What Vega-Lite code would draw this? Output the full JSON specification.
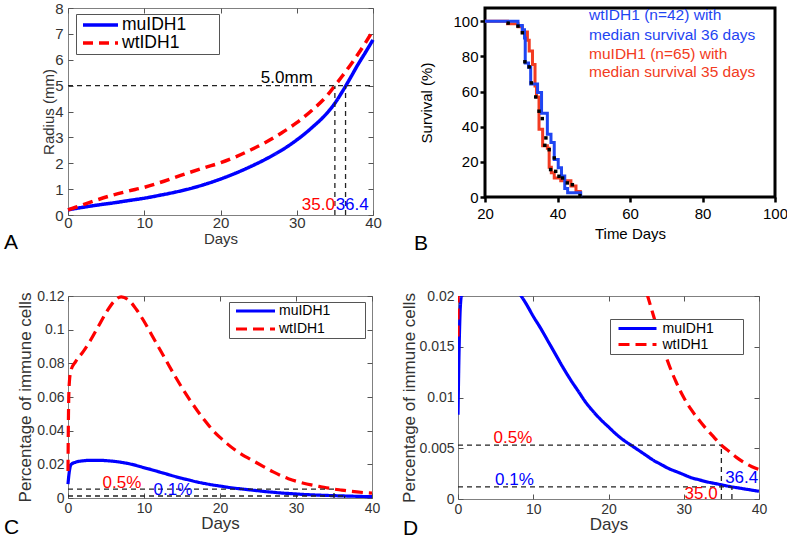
{
 "$schema": "https://vega.github.io/schema/vega-lite/v6.json",
 "padding": {"left": 3, "top": 0, "right": 0, "bottom": 0},
 "background": "white",
 "config": {
  "font": "Liberation Sans",
  "axis": {"labelFont": "Liberation Sans", "titleFont": "Liberation Sans", "titleFontWeight": "normal", "grid": false, "labelFlush": false, "labelOverlap": false, "domain": false},
  "legend": {"labelFont": "Liberation Sans"},
  "title": {"font": "Liberation Sans", "fontWeight": "normal", "fontSize": 21, "color": "black", "orient": "bottom", "anchor": "start", "frame": "group", "offset": 0}
 },
 "datasets": {
  "radius": [
   {"day":0,"r":0.2,"series":"muIDH1"},{"day":2,"r":0.3,"series":"muIDH1"},{"day":4,"r":0.39,"series":"muIDH1"},{"day":6,"r":0.47,"series":"muIDH1"},{"day":8,"r":0.56,"series":"muIDH1"},{"day":10,"r":0.65,"series":"muIDH1"},{"day":12,"r":0.76,"series":"muIDH1"},{"day":14,"r":0.88,"series":"muIDH1"},{"day":16,"r":1.02,"series":"muIDH1"},{"day":18,"r":1.19,"series":"muIDH1"},{"day":20,"r":1.39,"series":"muIDH1"},{"day":22,"r":1.62,"series":"muIDH1"},{"day":24,"r":1.88,"series":"muIDH1"},{"day":26,"r":2.17,"series":"muIDH1"},{"day":28,"r":2.5,"series":"muIDH1"},{"day":30,"r":2.9,"series":"muIDH1"},{"day":32,"r":3.38,"series":"muIDH1"},{"day":34,"r":3.95,"series":"muIDH1"},{"day":35,"r":4.32,"series":"muIDH1"},{"day":36,"r":4.78,"series":"muIDH1"},{"day":37,"r":5.28,"series":"muIDH1"},{"day":38,"r":5.8,"series":"muIDH1"},{"day":39,"r":6.28,"series":"muIDH1"},{"day":40,"r":6.77,"series":"muIDH1"},
   {"day":0,"r":0.2,"series":"wtIDH1"},{"day":2,"r":0.4,"series":"wtIDH1"},{"day":4,"r":0.6,"series":"wtIDH1"},{"day":6,"r":0.78,"series":"wtIDH1"},{"day":8,"r":0.93,"series":"wtIDH1"},{"day":10,"r":1.07,"series":"wtIDH1"},{"day":12,"r":1.25,"series":"wtIDH1"},{"day":14,"r":1.45,"series":"wtIDH1"},{"day":16,"r":1.65,"series":"wtIDH1"},{"day":18,"r":1.84,"series":"wtIDH1"},{"day":20,"r":2.02,"series":"wtIDH1"},{"day":22,"r":2.25,"series":"wtIDH1"},{"day":24,"r":2.52,"series":"wtIDH1"},{"day":26,"r":2.82,"series":"wtIDH1"},{"day":28,"r":3.17,"series":"wtIDH1"},{"day":30,"r":3.57,"series":"wtIDH1"},{"day":32,"r":4.05,"series":"wtIDH1"},{"day":34,"r":4.62,"series":"wtIDH1"},{"day":35,"r":5.0,"series":"wtIDH1"},{"day":36,"r":5.38,"series":"wtIDH1"},{"day":37,"r":5.78,"series":"wtIDH1"},{"day":38,"r":6.2,"series":"wtIDH1"},{"day":39,"r":6.65,"series":"wtIDH1"},{"day":40,"r":7.13,"series":"wtIDH1"}
  ],
  "refA": [
   {"x":0,"x2":40,"y":5,"y2":5},{"x":35,"x2":35,"y":0,"y2":5},{"x":36.4,"x2":36.4,"y":0,"y2":5}
  ],
  "surv": [
   {"day":20,"pct":100,"series":"muIDH1"},{"day":26.2,"pct":98.5,"series":"muIDH1"},{"day":29.1,"pct":96.9,"series":"muIDH1"},{"day":30.3,"pct":93.8,"series":"muIDH1"},{"day":31.7,"pct":89.2,"series":"muIDH1"},{"day":32.2,"pct":83.1,"series":"muIDH1"},{"day":33.1,"pct":75.4,"series":"muIDH1"},{"day":33.8,"pct":63.1,"series":"muIDH1"},{"day":34.2,"pct":56.9,"series":"muIDH1"},{"day":34.9,"pct":38.5,"series":"muIDH1"},{"day":35.9,"pct":29.2,"series":"muIDH1"},{"day":37.2,"pct":27.7,"series":"muIDH1"},{"day":37.7,"pct":16.9,"series":"muIDH1"},{"day":38.3,"pct":13.8,"series":"muIDH1"},{"day":39.1,"pct":10.8,"series":"muIDH1"},{"day":40.9,"pct":9.2,"series":"muIDH1"},{"day":43.7,"pct":6.2,"series":"muIDH1"},{"day":45.1,"pct":3.1,"series":"muIDH1"},{"day":46.3,"pct":0,"series":"muIDH1"},
   {"day":20,"pct":100,"series":"wtIDH1"},{"day":29.1,"pct":97.6,"series":"wtIDH1"},{"day":30.3,"pct":95.2,"series":"wtIDH1"},{"day":30.9,"pct":90.5,"series":"wtIDH1"},{"day":31.1,"pct":76.2,"series":"wtIDH1"},{"day":32.0,"pct":73.8,"series":"wtIDH1"},{"day":32.6,"pct":64.3,"series":"wtIDH1"},{"day":34.5,"pct":59.5,"series":"wtIDH1"},{"day":35.6,"pct":47.6,"series":"wtIDH1"},{"day":37.2,"pct":35.7,"series":"wtIDH1"},{"day":38.2,"pct":31.0,"series":"wtIDH1"},{"day":39.1,"pct":21.4,"series":"wtIDH1"},{"day":40.2,"pct":16.7,"series":"wtIDH1"},{"day":41.1,"pct":11.9,"series":"wtIDH1"},{"day":42.0,"pct":4.8,"series":"wtIDH1"},{"day":42.8,"pct":2.4,"series":"wtIDH1"},{"day":46.4,"pct":0,"series":"wtIDH1"}
  ],
  "censor": [
   {"day":26.4,"pct":98.9},{"day":29.1,"pct":97.2},{"day":30.3,"pct":93.4},{"day":31.0,"pct":76.9},{"day":32.2,"pct":74.0},{"day":32.8,"pct":64.9},{"day":34.0,"pct":56.9},{"day":34.9,"pct":48.8},{"day":35.8,"pct":44.6},{"day":36.8,"pct":33.6},{"day":36.5,"pct":29.4},{"day":37.7,"pct":26.9},{"day":38.1,"pct":15.6},{"day":39.1,"pct":22.2},{"day":39.5,"pct":14.6},{"day":40.4,"pct":11.8},{"day":41.4,"pct":10.8},{"day":42.7,"pct":8.0},{"day":44.1,"pct":7.0},{"day":46.2,"pct":0.8}
  ],
  "btext": [
   {"day":48.7,"pct":103.4,"series":"wtIDH1","label":"wtIDH1 (n=42) with"},
   {"day":48.7,"pct":92.4,"series":"wtIDH1","label":"median survival 36 days"},
   {"day":48.7,"pct":81.6,"series":"muIDH1","label":"muIDH1 (n=65) with"},
   {"day":48.7,"pct":71.0,"series":"muIDH1","label":"median survival 35 days"}
  ],
  "immune": [
   {"day":0,"v":0.0083,"series":"muIDH1"},{"day":0.1,"v":0.013,"series":"muIDH1"},{"day":0.2,"v":0.0165,"series":"muIDH1"},{"day":0.3,"v":0.0188,"series":"muIDH1"},{"day":0.5,"v":0.0203,"series":"muIDH1"},{"day":1,"v":0.0213,"series":"muIDH1"},{"day":2,"v":0.0221,"series":"muIDH1"},{"day":3,"v":0.0224,"series":"muIDH1"},{"day":4,"v":0.0224,"series":"muIDH1"},{"day":5,"v":0.0222,"series":"muIDH1"},{"day":6,"v":0.0218,"series":"muIDH1"},{"day":7,"v":0.0212,"series":"muIDH1"},{"day":8,"v":0.0204,"series":"muIDH1"},{"day":9,"v":0.0193,"series":"muIDH1"},{"day":10,"v":0.018,"series":"muIDH1"},{"day":11,"v":0.0168,"series":"muIDH1"},{"day":12,"v":0.0155,"series":"muIDH1"},{"day":13,"v":0.0142,"series":"muIDH1"},{"day":14,"v":0.0129,"series":"muIDH1"},{"day":15,"v":0.0117,"series":"muIDH1"},{"day":16,"v":0.0106,"series":"muIDH1"},{"day":17,"v":0.0095,"series":"muIDH1"},{"day":18,"v":0.0086,"series":"muIDH1"},{"day":19,"v":0.0078,"series":"muIDH1"},{"day":20,"v":0.0071,"series":"muIDH1"},{"day":21,"v":0.0064,"series":"muIDH1"},{"day":22,"v":0.0058,"series":"muIDH1"},{"day":23,"v":0.0053,"series":"muIDH1"},{"day":24,"v":0.0048,"series":"muIDH1"},{"day":25,"v":0.0043,"series":"muIDH1"},{"day":26,"v":0.0038,"series":"muIDH1"},{"day":27,"v":0.0034,"series":"muIDH1"},{"day":28,"v":0.003,"series":"muIDH1"},{"day":29,"v":0.0027,"series":"muIDH1"},{"day":30,"v":0.0024,"series":"muIDH1"},{"day":31,"v":0.0021,"series":"muIDH1"},{"day":32,"v":0.0019,"series":"muIDH1"},{"day":33,"v":0.0017,"series":"muIDH1"},{"day":34,"v":0.00155,"series":"muIDH1"},{"day":35,"v":0.0014,"series":"muIDH1"},{"day":36,"v":0.00125,"series":"muIDH1"},{"day":37,"v":0.00112,"series":"muIDH1"},{"day":38,"v":0.001,"series":"muIDH1"},{"day":39,"v":0.00088,"series":"muIDH1"},{"day":40,"v":0.00076,"series":"muIDH1"},
   {"day":0,"v":0.016,"series":"wtIDH1"},{"day":0.05,"v":0.045,"series":"wtIDH1"},{"day":0.1,"v":0.06,"series":"wtIDH1"},{"day":0.2,"v":0.07,"series":"wtIDH1"},{"day":0.4,"v":0.076,"series":"wtIDH1"},{"day":1,"v":0.081,"series":"wtIDH1"},{"day":2,"v":0.087,"series":"wtIDH1"},{"day":3,"v":0.094,"series":"wtIDH1"},{"day":4,"v":0.102,"series":"wtIDH1"},{"day":5,"v":0.11,"series":"wtIDH1"},{"day":6,"v":0.1165,"series":"wtIDH1"},{"day":7,"v":0.1195,"series":"wtIDH1"},{"day":8,"v":0.1175,"series":"wtIDH1"},{"day":9,"v":0.112,"series":"wtIDH1"},{"day":10,"v":0.105,"series":"wtIDH1"},{"day":11,"v":0.097,"series":"wtIDH1"},{"day":12,"v":0.089,"series":"wtIDH1"},{"day":13,"v":0.081,"series":"wtIDH1"},{"day":14,"v":0.073,"series":"wtIDH1"},{"day":15,"v":0.0655,"series":"wtIDH1"},{"day":16,"v":0.0585,"series":"wtIDH1"},{"day":17,"v":0.052,"series":"wtIDH1"},{"day":18,"v":0.046,"series":"wtIDH1"},{"day":19,"v":0.0405,"series":"wtIDH1"},{"day":20,"v":0.036,"series":"wtIDH1"},{"day":21,"v":0.032,"series":"wtIDH1"},{"day":22,"v":0.0285,"series":"wtIDH1"},{"day":23,"v":0.0255,"series":"wtIDH1"},{"day":24,"v":0.023,"series":"wtIDH1"},{"day":25,"v":0.0205,"series":"wtIDH1"},{"day":26,"v":0.018,"series":"wtIDH1"},{"day":27,"v":0.0155,"series":"wtIDH1"},{"day":28,"v":0.0133,"series":"wtIDH1"},{"day":29,"v":0.0115,"series":"wtIDH1"},{"day":30,"v":0.01,"series":"wtIDH1"},{"day":31,"v":0.0088,"series":"wtIDH1"},{"day":32,"v":0.0078,"series":"wtIDH1"},{"day":33,"v":0.0069,"series":"wtIDH1"},{"day":34,"v":0.0061,"series":"wtIDH1"},{"day":35,"v":0.0053,"series":"wtIDH1"},{"day":36,"v":0.0047,"series":"wtIDH1"},{"day":37,"v":0.0041,"series":"wtIDH1"},{"day":38,"v":0.0036,"series":"wtIDH1"},{"day":39,"v":0.0032,"series":"wtIDH1"},{"day":40,"v":0.0029,"series":"wtIDH1"}
  ],
  "refCD": [
   {"x":0,"x2":35,"y":0.0053,"y2":0.0053},{"x":0,"x2":36.4,"y":0.0012,"y2":0.0012},{"x":35,"x2":35,"y":0,"y2":0.0053},{"x":36.4,"x2":36.4,"y":0,"y2":0.0012}
  ]
 },
 "spacing": 32,
 "resolve": {"scale": {"color": "independent", "strokeDash": "independent"}, "legend": {"color": "independent", "strokeDash": "independent"}},
 "vconcat": [
  {
   "spacing": 112,
   "bounds": "flush",
   "resolve": {"scale": {"color": "independent", "strokeDash": "independent"}, "legend": {"color": "independent", "strokeDash": "independent"}},
   "hconcat": [
    {
     "width": 305, "height": 207,
     "view": {"stroke": "#808080", "strokeWidth": 1},
     "title": {"text": "A", "dx": -64, "dy": -19},
     "layer": [
      {
       "data": {"name": "radius"},
       "mark": {"type": "line", "strokeWidth": 3.5, "interpolate": "monotone"},
       "encoding": {
        "x": {"field": "day", "type": "quantitative", "scale": {"domain": [0, 40], "nice": false}, "axis": {"orient": "bottom", "values": [0,10,20,30,40], "title": "Days", "tickSize": -5, "labelPadding": 5, "titlePadding": 1.5, "labelFontSize": 15, "titleFontSize": 15, "tickColor": "#555", "labelColor": "#333", "titleColor": "#333"}},
        "y": {"field": "r", "type": "quantitative", "scale": {"domain": [0, 8], "nice": false}, "axis": {"orient": "left", "values": [0,1,2,3,4,5,6,7,8], "title": "Radius (mm)", "tickSize": -5, "labelPadding": 10, "titlePadding": -2, "labelFontSize": 15, "titleFontSize": 15, "tickColor": "#555", "labelColor": "#333", "titleColor": "#333"}},
        "color": {"field": "series", "type": "nominal", "scale": {"domain": ["muIDH1", "wtIDH1"], "range": ["#0000ff", "#ff0000"]},
         "legend": {"orient": "none", "legendX": 8, "legendY": 6, "title": ".", "titleOrient": "right", "titlePadding": 28, "titleFontSize": 10, "titleOpacity": 0, "symbolType": "stroke", "symbolSize": 1225, "symbolStrokeWidth": 3.5, "labelFontSize": 17.5, "labelColor": "black", "strokeColor": "#555", "fillColor": "white", "padding": 2, "symbolOffset": 3, "labelOffset": 2, "clipHeight": 18, "rowPadding": 0}},
        "strokeDash": {"field": "series", "type": "nominal", "scale": {"domain": ["muIDH1", "wtIDH1"], "range": [[1, 0], [10, 6]]},
         "legend": {"orient": "none", "legendX": 8, "legendY": 6, "title": ".", "titleOrient": "right", "titlePadding": 28, "titleFontSize": 10, "titleOpacity": 0, "symbolType": "stroke", "symbolSize": 1225, "symbolStrokeWidth": 3.5, "labelFontSize": 17.5, "labelColor": "black", "strokeColor": "#555", "fillColor": "white", "padding": 2, "symbolOffset": 3, "labelOffset": 2, "clipHeight": 18, "rowPadding": 0}}
       }
      },
      {
       "data": {"name": "refA"},
       "mark": {"type": "rule", "strokeDash": [5, 4], "color": "#222", "strokeWidth": 1.3},
       "encoding": {
        "x": {"field": "x", "type": "quantitative", "axis": {"orient": "top", "values": [0,10,20,30,40], "labels": false, "title": null, "tickSize": -5, "tickColor": "#555"}},
        "x2": {"field": "x2"},
        "y": {"field": "y", "type": "quantitative", "axis": {"orient": "right", "values": [0,1,2,3,4,5,6,7,8], "labels": false, "title": null, "tickSize": -5, "tickColor": "#555"}},
        "y2": {"field": "y2"}
       }
      },
      {
       "data": {"values": [{"day": 28.7, "r": 5.3, "label": "5.0mm"}]},
       "mark": {"type": "text", "fontSize": 17, "color": "black", "align": "center", "baseline": "middle", "font": "Liberation Sans"},
       "encoding": {"x": {"field": "day", "type": "quantitative", "axis": null}, "y": {"field": "r", "type": "quantitative", "axis": null}, "text": {"field": "label"}}
      },
      {
       "data": {"values": [{"day": 35, "r": 0.4, "label": "35.0"}]},
       "mark": {"type": "text", "fontSize": 17, "color": "#ff0000", "align": "right", "baseline": "middle", "font": "Liberation Sans"},
       "encoding": {"x": {"field": "day", "type": "quantitative", "axis": null}, "y": {"field": "r", "type": "quantitative", "axis": null}, "text": {"field": "label"}}
      },
      {
       "data": {"values": [{"day": 35.1, "r": 0.4, "label": "36.4"}]},
       "mark": {"type": "text", "fontSize": 17, "color": "#0000ff", "align": "left", "baseline": "middle", "font": "Liberation Sans"},
       "encoding": {"x": {"field": "day", "type": "quantitative", "axis": null}, "y": {"field": "r", "type": "quantitative", "axis": null}, "text": {"field": "label"}}
      }
     ]
    },
    {
     "width": 290, "height": 189,
     "view": {"stroke": "black", "strokeWidth": 3},
     "title": {"text": "B", "dx": -71, "dy": -12},
     "encoding": {
      "x": {"field": "day", "type": "quantitative", "scale": {"domain": [20, 100], "nice": false}, "axis": {"orient": "bottom", "values": [20,40,60,80,100], "title": "Time Days", "tickSize": 5, "tickWidth": 2.5, "tickColor": "black", "labelPadding": 4, "titlePadding": 5, "labelFontSize": 15, "titleFontSize": 15, "labelColor": "black", "titleColor": "black"}},
      "y": {"field": "pct", "type": "quantitative", "scale": {"domain": [0, 107.5], "nice": false}, "axis": {"orient": "left", "values": [0,20,40,60,80,100], "title": "Survival (%)", "tickSize": 5, "tickWidth": 2.5, "tickColor": "black", "labelPadding": 2, "titlePadding": 18, "labelFontSize": 15, "titleFontSize": 15, "labelColor": "black", "titleColor": "black"}}
     },
     "layer": [
      {
       "data": {"name": "surv"},
       "mark": {"type": "line", "strokeWidth": 3, "interpolate": "step-after"},
       "encoding": {
        "color": {"field": "series", "type": "nominal", "scale": {"domain": ["muIDH1", "wtIDH1"], "range": ["#f23b22", "#1f45f2"]}, "legend": null}
       }
      },
      {
       "data": {"name": "censor"},
       "mark": {"type": "square", "size": 12, "color": "black", "filled": true, "opacity": 1}
      },
      {
       "data": {"name": "btext"},
       "mark": {"type": "text", "fontSize": 15.5, "align": "left", "baseline": "middle", "font": "Liberation Sans"},
       "encoding": {"text": {"field": "label"}, "color": {"field": "series", "type": "nominal", "legend": null}}
      }
     ]
    }
   ]
  },
  {
   "spacing": 86,
   "bounds": "flush",
   "resolve": {"scale": {"color": "independent", "strokeDash": "independent"}, "legend": {"color": "independent", "strokeDash": "independent"}},
   "hconcat": [
    {
     "width": 304, "height": 202,
     "view": {"stroke": "#808080", "strokeWidth": 1},
     "title": {"text": "C", "dx": -64, "dy": -19},
     "layer": [
      {
       "data": {"name": "immune"},
       "mark": {"type": "line", "strokeWidth": 3.2, "interpolate": "monotone"},
       "encoding": {
        "x": {"field": "day", "type": "quantitative", "scale": {"domain": [0, 40], "nice": false}, "axis": {"orient": "bottom", "values": [0,10,20,30,40], "title": "Days", "tickSize": -5, "labelPadding": 8, "titlePadding": 0.5, "labelFontSize": 14, "titleFontSize": 17, "tickColor": "#555", "labelColor": "#333", "titleColor": "#333"}},
        "y": {"field": "v", "type": "quantitative", "scale": {"domain": [0, 0.12], "nice": false}, "axis": {"orient": "left", "values": [0,0.02,0.04,0.06,0.08,0.1,0.12], "format": ".2~g", "title": "Percentage of immune cells", "tickSize": -5, "labelPadding": 9, "titlePadding": 2, "labelFontSize": 14, "titleFontSize": 17, "tickColor": "#555", "labelColor": "#333", "titleColor": "#333"}},
        "color": {"field": "series", "type": "nominal", "scale": {"domain": ["muIDH1", "wtIDH1"], "range": ["#0000ff", "#ff0000"]},
         "legend": {"orient": "none", "legendX": 161, "legendY": 6, "title": ".", "titleOrient": "right", "titlePadding": 32, "titleFontSize": 10, "titleOpacity": 0, "symbolType": "stroke", "symbolSize": 1521, "symbolStrokeWidth": 3.2, "labelFontSize": 14, "labelColor": "black", "strokeColor": "#555", "fillColor": "white", "padding": 0, "symbolOffset": 5, "labelOffset": 2, "clipHeight": 18, "rowPadding": 0}},
        "strokeDash": {"field": "series", "type": "nominal", "scale": {"domain": ["muIDH1", "wtIDH1"], "range": [[1, 0], [11, 6]]},
         "legend": {"orient": "none", "legendX": 161, "legendY": 6, "title": ".", "titleOrient": "right", "titlePadding": 32, "titleFontSize": 10, "titleOpacity": 0, "symbolType": "stroke", "symbolSize": 1521, "symbolStrokeWidth": 3.2, "labelFontSize": 14, "labelColor": "black", "strokeColor": "#555", "fillColor": "white", "padding": 0, "symbolOffset": 5, "labelOffset": 2, "clipHeight": 18, "rowPadding": 0}}
       }
      },
      {
       "data": {"name": "refCD"},
       "mark": {"type": "rule", "strokeDash": [5, 4], "color": "#222", "strokeWidth": 1.3},
       "encoding": {
        "x": {"field": "x", "type": "quantitative", "axis": {"orient": "top", "values": [0,10,20,30,40], "labels": false, "title": null, "tickSize": -5, "tickColor": "#555"}},
        "x2": {"field": "x2"},
        "y": {"field": "y", "type": "quantitative", "axis": {"orient": "right", "values": [0,0.02,0.04,0.06,0.08,0.1,0.12], "labels": false, "title": null, "tickSize": -5, "tickColor": "#555"}},
        "y2": {"field": "y2"}
       }
      },
      {
       "data": {"values": [{"day": 7.1, "v": 0.0091, "label": "0.5%"}]},
       "mark": {"type": "text", "fontSize": 17, "color": "#ff0000", "align": "center", "baseline": "middle", "font": "Liberation Sans"},
       "encoding": {"x": {"field": "day", "type": "quantitative", "axis": null}, "y": {"field": "v", "type": "quantitative", "axis": null}, "text": {"field": "label"}}
      },
      {
       "data": {"values": [{"day": 13.8, "v": 0.0046, "label": "0.1%"}]},
       "mark": {"type": "text", "fontSize": 17, "color": "#0000ff", "align": "center", "baseline": "middle", "font": "Liberation Sans"},
       "encoding": {"x": {"field": "day", "type": "quantitative", "axis": null}, "y": {"field": "v", "type": "quantitative", "axis": null}, "text": {"field": "label"}}
      }
     ]
    },
    {
     "width": 301, "height": 203,
     "view": {"stroke": "#808080", "strokeWidth": 1},
     "title": {"text": "D", "dx": -55, "dy": -19},
     "layer": [
      {
       "data": {"name": "immune"},
       "mark": {"type": "line", "strokeWidth": 3.2, "interpolate": "monotone", "clip": true},
       "encoding": {
        "x": {"field": "day", "type": "quantitative", "scale": {"domain": [0, 40], "nice": false}, "axis": {"orient": "bottom", "values": [0,10,20,30,40], "title": "Days", "tickSize": -5, "labelPadding": 8, "titlePadding": 0.5, "labelFontSize": 14, "titleFontSize": 17, "tickColor": "#555", "labelColor": "#333", "titleColor": "#333"}},
        "y": {"field": "v", "type": "quantitative", "scale": {"domain": [0, 0.02], "nice": false}, "axis": {"orient": "left", "values": [0,0.005,0.01,0.015,0.02], "format": ".2~g", "title": "Percentage of immune cells", "tickSize": -5, "labelPadding": 9, "titlePadding": 0, "labelFontSize": 14, "titleFontSize": 17, "tickColor": "#555", "labelColor": "#333", "titleColor": "#333"}},
        "color": {"field": "series", "type": "nominal", "scale": {"domain": ["muIDH1", "wtIDH1"], "range": ["#0000ff", "#ff0000"]},
         "legend": {"orient": "none", "legendX": 152, "legendY": 23, "title": ".", "titleOrient": "right", "titlePadding": 25, "titleFontSize": 10, "titleOpacity": 0, "symbolType": "stroke", "symbolSize": 1444, "symbolStrokeWidth": 3.2, "labelFontSize": 14, "labelColor": "black", "strokeColor": "#555", "fillColor": "white", "padding": 1.5, "symbolOffset": 5, "labelOffset": 4, "clipHeight": 16, "rowPadding": 0}},
        "strokeDash": {"field": "series", "type": "nominal", "scale": {"domain": ["muIDH1", "wtIDH1"], "range": [[1, 0], [11, 6]]},
         "legend": {"orient": "none", "legendX": 152, "legendY": 23, "title": ".", "titleOrient": "right", "titlePadding": 25, "titleFontSize": 10, "titleOpacity": 0, "symbolType": "stroke", "symbolSize": 1444, "symbolStrokeWidth": 3.2, "labelFontSize": 14, "labelColor": "black", "strokeColor": "#555", "fillColor": "white", "padding": 1.5, "symbolOffset": 5, "labelOffset": 4, "clipHeight": 16, "rowPadding": 0}}
       }
      },
      {
       "data": {"name": "refCD"},
       "mark": {"type": "rule", "strokeDash": [5, 4], "color": "#222", "strokeWidth": 1.3},
       "encoding": {
        "x": {"field": "x", "type": "quantitative", "axis": {"orient": "top", "values": [0,10,20,30,40], "labels": false, "title": null, "tickSize": -5, "tickColor": "#555"}},
        "x2": {"field": "x2"},
        "y": {"field": "y", "type": "quantitative", "axis": {"orient": "right", "values": [0,0.005,0.01,0.015,0.02], "labels": false, "title": null, "tickSize": -5, "tickColor": "#555"}},
        "y2": {"field": "y2"}
       }
      },
      {
       "data": {"values": [{"day": 7.3, "v": 0.006, "label": "0.5%"}, {"day": 32.3, "v": 0.00046, "label": "35.0"}]},
       "mark": {"type": "text", "fontSize": 17, "color": "#ff0000", "align": "center", "baseline": "middle", "font": "Liberation Sans"},
       "encoding": {"x": {"field": "day", "type": "quantitative", "axis": null}, "y": {"field": "v", "type": "quantitative", "axis": null}, "text": {"field": "label"}}
      },
      {
       "data": {"values": [{"day": 7.5, "v": 0.0019, "label": "0.1%"}, {"day": 37.7, "v": 0.0021, "label": "36.4"}]},
       "mark": {"type": "text", "fontSize": 17, "color": "#0000ff", "align": "center", "baseline": "middle", "font": "Liberation Sans"},
       "encoding": {"x": {"field": "day", "type": "quantitative", "axis": null}, "y": {"field": "v", "type": "quantitative", "axis": null}, "text": {"field": "label"}}
      }
     ]
    }
   ]
  }
 ]
}
